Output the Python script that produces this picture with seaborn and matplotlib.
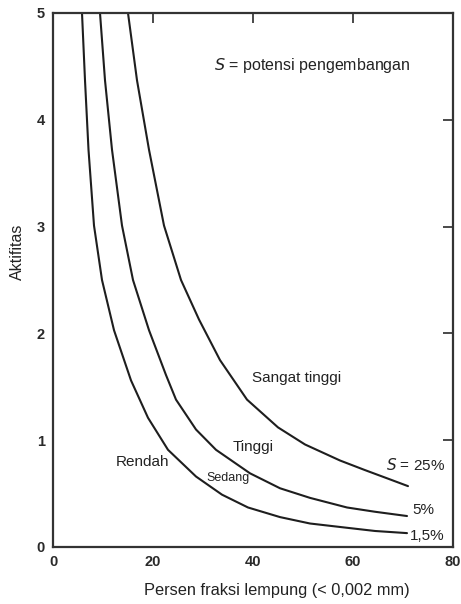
import numpy as np
import pandas as pd
import matplotlib
matplotlib.use("Agg")
import matplotlib.pyplot as plt
import seaborn as sns

# Data (clay fraction %, activity)
clay_15 = [5.8, 6.4, 7.1, 8.2, 9.8, 12.2, 15.6, 19.0, 23.0, 28.6, 33.8, 39.0, 45.4, 51.4, 58.8, 64.4, 70.8]
act_15 = [5.0, 4.37, 3.72, 3.01, 2.50, 2.03, 1.56, 1.21, 0.91, 0.66, 0.49, 0.37, 0.28, 0.22, 0.18, 0.15, 0.13]

clay_5 = [9.4, 10.4, 11.8, 13.8, 16.0, 19.2, 22.6, 24.6, 28.6, 32.6, 39.4, 45.4, 51.4, 58.8, 64.4, 70.8]
act_5 = [5.0, 4.37, 3.72, 3.01, 2.50, 2.03, 1.61, 1.38, 1.10, 0.91, 0.69, 0.55, 0.46, 0.37, 0.33, 0.29]

clay_25 = [15.0, 16.8, 19.2, 22.2, 25.6, 29.2, 33.4, 38.8, 45.0, 50.4, 57.4, 62.4, 67.0, 71.0]
act_25 = [5.0, 4.37, 3.72, 3.01, 2.50, 2.13, 1.75, 1.38, 1.12, 0.96, 0.81, 0.72, 0.64, 0.57]

series_names = ["1,5%", "5%", "25%"]
x_ticks = [0, 20, 40, 60, 80]
y_ticks = [0, 1, 2, 3, 4, 5]

df = pd.concat([
    pd.DataFrame({"clay": clay_15, "act": act_15, "S": series_names[0]}),
    pd.DataFrame({"clay": clay_5, "act": act_5, "S": series_names[1]}),
    pd.DataFrame({"clay": clay_25, "act": act_25, "S": series_names[2]}),
], ignore_index=True)

sns.set_style("white")
plt.rcParams['font.family'] = ['Liberation Sans', 'DejaVu Sans']

fig = plt.figure(figsize=(4.61, 6.04), dpi=100)
ax = fig.add_axes([53/461, 57/604, 400/461, 534/604])

sns.lineplot(data=df, x="clay", y="act", hue="S", units="S", estimator=None,
             sort=False, palette=["#1e1e1e"] * 3, linewidth=1.5, legend=False, ax=ax)

ax.set_xlim(0, 80)
ax.set_ylim(0, 5)
ax.set_xticks(x_ticks)
ax.set_yticks(y_ticks)
ax.tick_params(direction="in", length=7.5, width=1.2, top=True, right=True,
               labelsize=10.5, colors="#2a2a2a", pad=6)
for lab in ax.get_xticklabels() + ax.get_yticklabels():
    lab.set_fontweight("bold")
for sp in ax.spines.values():
    sp.set_linewidth(1.6)
    sp.set_color("#333333")

ax.set_xlabel("Persen fraksi lempung (< 0,002 mm)", fontsize=11.8, color="#222222")
ax.xaxis.set_label_coords(0.56, -0.068)
ax.set_ylabel("Aktifitas", fontsize=11.5, color="#222222")
ax.yaxis.set_label_coords(-0.07, 0.552)

tc = "#222222"
ax.text(51.8, 4.51, r"$\mathit{S}$ = potensi pengembangan", fontsize=11.5, ha="center", va="center", color=tc)
ax.text(48.8, 1.58, "Sangat tinggi", fontsize=11, ha="center", va="center", color=tc)
ax.text(40.0, 0.94, "Tinggi", fontsize=11, ha="center", va="center", color=tc)
ax.text(17.8, 0.80, "Rendah", fontsize=11, ha="center", va="center", color=tc)
ax.text(35.0, 0.65, "Sedang", fontsize=9, ha="center", va="center", color=tc)
ax.text(72.6, 0.77, r"$\mathit{S}$ = 25%", fontsize=11, ha="center", va="center", color=tc)
ax.text(74.0, 0.35, "5%", fontsize=11, ha="center", va="center", color=tc)
ax.text(74.8, 0.10, "1,5%", fontsize=11, ha="center", va="center", color=tc)

fig.savefig("out.png", dpi=100)
